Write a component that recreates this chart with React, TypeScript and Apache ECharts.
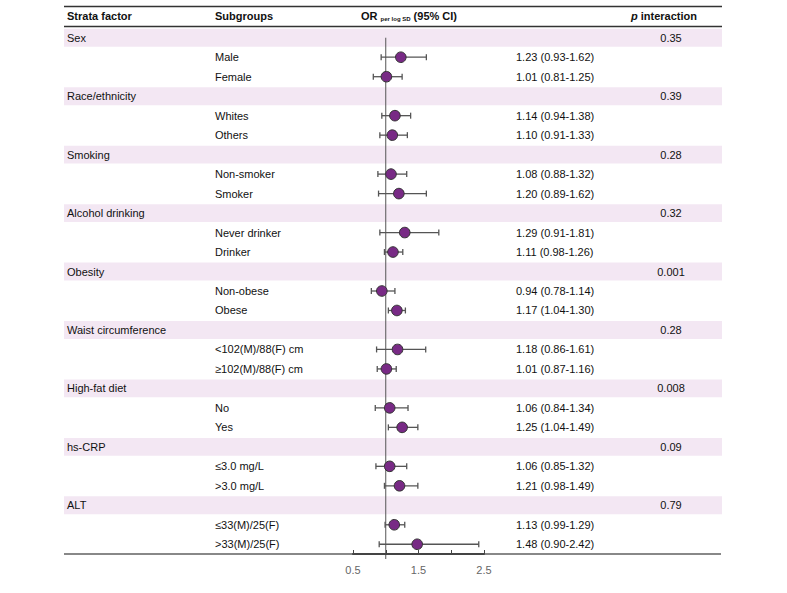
import React, { useEffect, useRef } from "react";
import * as echarts from "echarts";

const strata = ["Sex", "Race/ethnicity", "Smoking", "Alcohol drinking", "Obesity", "Waist circumference", "High-fat diet", "hs-CRP", "ALT"];
const pInteraction = ["0.35", "0.39", "0.28", "0.32", "0.001", "0.28", "0.008", "0.09", "0.79"];
const subgroups = [
  ["Male", "Female"],
  ["Whites", "Others"],
  ["Non-smoker", "Smoker"],
  ["Never drinker", "Drinker"],
  ["Non-obese", "Obese"],
  ["<102(M)/88(F) cm", "≥102(M)/88(F) cm"],
  ["No", "Yes"],
  ["≤3.0 mg/L", ">3.0 mg/L"],
  ["≤33(M)/25(F)", ">33(M)/25(F)"],
];
const orValues = [1.23, 1.01, 1.14, 1.10, 1.08, 1.20, 1.29, 1.11, 0.94, 1.17, 1.18, 1.01, 1.06, 1.25, 1.06, 1.21, 1.13, 1.48];
const ciLower = [0.93, 0.81, 0.94, 0.91, 0.88, 0.89, 0.91, 0.98, 0.78, 1.04, 0.86, 0.87, 0.84, 1.04, 0.85, 0.98, 0.99, 0.90];
const ciUpper = [1.62, 1.25, 1.38, 1.33, 1.32, 1.62, 1.81, 1.26, 1.14, 1.30, 1.61, 1.16, 1.34, 1.49, 1.32, 1.49, 1.29, 2.42];
const xTicks = [0.5, 1.5, 2.5];

const FONT = "'Liberation Sans', Arial, Helvetica, sans-serif";
const TEXT_COLOR = "#111";

type Row = { kind: "group" | "sub"; label: string; p?: string; idx?: number };

function buildRows(): Row[] {
  const rows: Row[] = [];
  let k = 0;
  strata.forEach((s, i) => {
    rows.push({ kind: "group", label: s, p: pInteraction[i] });
    subgroups[i].forEach((g) => {
      rows.push({ kind: "sub", label: g, idx: k });
      k++;
    });
  });
  return rows;
}

export default function App() {
  const ref = useRef<HTMLDivElement>(null);
  useEffect(() => {
    if (!ref.current) return;
    const chart = echarts.init(ref.current, null, { renderer: "svg" });
    const rows = buildRows();
    const cats = rows.map((_, i) => String(i));
    const bandData = rows.map((r, i) => (r.kind === "group" ? [0.5, i] : null)).filter((d) => d) as number[][];
    const estData = rows
      .map((r, i) => (r.kind === "sub" ? [ciLower[r.idx!], ciUpper[r.idx!], orValues[r.idx!], i] : null))
      .filter((d) => d) as number[][];
    const textData = rows.map((_, i) => [0.5, i]);

    const option: any = {
      animation: false,
      grid: { left: 353, right: 303, top: 28, bottom: 39, containLabel: false },
      xAxis: {
        type: "value",
        min: 0.5,
        max: 2.5,
        interval: 0.5,
        z: 10,
        splitLine: { show: false },
        axisLine: { show: true, lineStyle: { color: "#444", width: 2 } },
        axisTick: { show: true, inside: true, length: 4, lineStyle: { color: "#444", width: 1 } },
        axisLabel: {
          color: "#666",
          fontSize: 11,
          fontFamily: FONT,
          margin: 10,
          formatter: (v: number) => (xTicks.some((t) => Math.abs(t - v) < 1e-9) ? String(v) : ""),
        },
      },
      yAxis: {
        type: "category",
        data: cats,
        inverse: true,
        show: false,
      },
      graphic: [
        { type: "line", z: 1, shape: { x1: 64, y1: 6.5, x2: 722, y2: 6.5 }, style: { stroke: "#333", lineWidth: 1.5 } },
        { type: "line", z: 1, shape: { x1: 64, y1: 26.5, x2: 722, y2: 26.5 }, style: { stroke: "#333", lineWidth: 1.5 } },
        { type: "line", z: 0, shape: { x1: 64, y1: 554, x2: 721, y2: 554 }, style: { stroke: "#888", lineWidth: 2 } },
        {
          type: "text", x: 67, y: 16,
          style: { text: "Strata factor", font: `bold 11px ${FONT}`, fill: TEXT_COLOR, verticalAlign: "middle" },
        },
        {
          type: "text", x: 215, y: 16,
          style: { text: "Subgroups", font: `bold 11px ${FONT}`, fill: TEXT_COLOR, verticalAlign: "middle" },
        },
        {
          type: "text", x: 361, y: 16,
          style: {
            text: "{a|OR }{b|per log SD}{a| (95% CI)}",
            verticalAlign: "middle",
            rich: {
              a: { fontFamily: FONT, fontWeight: "bold", fontSize: 11, fill: TEXT_COLOR, color: TEXT_COLOR },
              b: { fontFamily: FONT, fontWeight: "bold", fontSize: 6, fill: TEXT_COLOR, color: TEXT_COLOR, padding: [6, 0, 0, 0] },
            },
          },
        },
        {
          type: "text", x: 631, y: 16,
          style: {
            text: "{i|p}{a| interaction}",
            verticalAlign: "middle",
            rich: {
              i: { fontFamily: FONT, fontWeight: "bold", fontStyle: "italic", fontSize: 11, fill: TEXT_COLOR, color: TEXT_COLOR },
              a: { fontFamily: FONT, fontWeight: "bold", fontSize: 11, fill: TEXT_COLOR, color: TEXT_COLOR },
            },
          },
        },
      ],
      series: [
        {
          type: "custom",
          name: "bands",
          z: 1,
          data: bandData,
          encode: { x: 0, y: 1 },
          renderItem: (params: any, api: any) => {
            const c = api.coord([0.5, api.value(1)]);
            const h = api.size([0, 1])[1];
            return {
              type: "rect",
              shape: { x: 64, y: c[1] - h / 2 + 0.8, width: 658, height: h - 1.6 },
              style: { fill: "#F3E7F3" },
            };
          },
        },
        {
          type: "custom",
          name: "texts",
          z: 4,
          data: textData,
          encode: { x: 0, y: 1 },
          renderItem: (params: any, api: any) => {
            const r = rows[params.dataIndex];
            const c = api.coord([0.5, api.value(1)]);
            const y = c[1];
            const children: any[] = [];
            if (r.kind === "group") {
              children.push({
                type: "text",
                x: 67, y,
                style: { text: r.label, font: `11px ${FONT}`, fill: TEXT_COLOR, verticalAlign: "middle", align: "left" },
              });
              children.push({
                type: "text",
                x: 671, y,
                style: { text: r.p, font: `11px ${FONT}`, fill: TEXT_COLOR, verticalAlign: "middle", align: "center" },
              });
            } else {
              const k = r.idx!;
              children.push({
                type: "text",
                x: 215, y,
                style: { text: r.label, font: `11px ${FONT}`, fill: TEXT_COLOR, verticalAlign: "middle", align: "left" },
              });
              children.push({
                type: "text",
                x: 516, y,
                style: {
                  text: `${orValues[k].toFixed(2)} (${ciLower[k].toFixed(2)}-${ciUpper[k].toFixed(2)})`,
                  font: `11px ${FONT}`, fill: TEXT_COLOR, verticalAlign: "middle", align: "left",
                },
              });
            }
            return { type: "group", children };
          },
        },
        {
          type: "custom",
          name: "refline",
          z: 2,
          data: [[1, 0]],
          encode: { x: 0, y: 1 },
          renderItem: (params: any, api: any) => {
            const c = api.coord([api.value(0), api.value(1)]);
            const bottom = params.coordSys.y + params.coordSys.height + 5;
            return {
              type: "line",
              shape: { x1: c[0], y1: c[1], x2: c[0], y2: bottom },
              style: { stroke: "#555", lineWidth: 1 },
            };
          },
        },
        {
          type: "custom",
          name: "estimates",
          z: 3,
          data: estData,
          encode: { x: [0, 1, 2], y: 3 },
          renderItem: (params: any, api: any) => {
            const row = api.value(3);
            const lo = api.coord([api.value(0), row]);
            const hi = api.coord([api.value(1), row]);
            const pt = api.coord([api.value(2), row]);
            const cap = 3;
            const st = { stroke: "#555", lineWidth: 1.3 };
            return {
              type: "group",
              children: [
                { type: "line", shape: { x1: lo[0], y1: lo[1], x2: hi[0], y2: hi[1] }, style: st },
                { type: "line", shape: { x1: lo[0], y1: lo[1] - cap, x2: lo[0], y2: lo[1] + cap }, style: st },
                { type: "line", shape: { x1: hi[0], y1: hi[1] - cap, x2: hi[0], y2: hi[1] + cap }, style: st },
                {
                  type: "circle",
                  shape: { cx: pt[0], cy: pt[1], r: 5.3 },
                  style: { fill: "#782A85", stroke: "#333", lineWidth: 1 },
                },
              ],
            };
          },
        },
      ],
    };
    chart.setOption(option);
    return () => chart.dispose();
  }, []);
  return (
    <div
      ref={ref}
      style={{ position: "fixed", left: 0, top: 0, width: 787, height: 593, background: "#fff" }}
    />
  );
}
